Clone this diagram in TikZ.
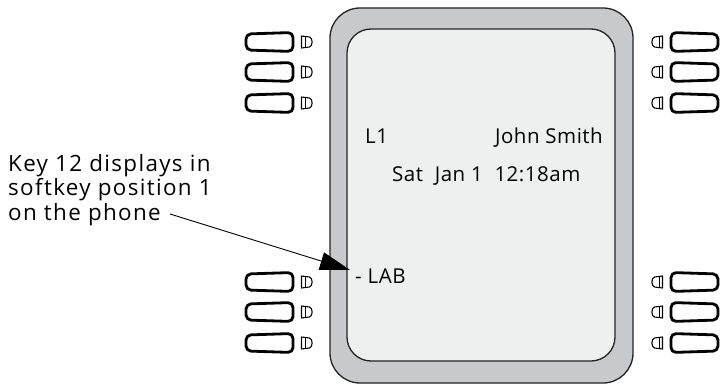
\documentclass[tikz,border=0pt]{standalone}
\usepackage{fontspec}
\setmainfont{Open Sans}
\newfontfamily\notefont[LetterSpace=6]{Open Sans}
\newfontfamily\scrfont[LetterSpace=2.5]{Open Sans}
\usetikzlibrary{arrows.meta}
\definecolor{bezel}{RGB}{200,201,203}
\definecolor{screen}{RGB}{238,239,239}
\definecolor{edge}{RGB}{35,35,35}
\tikzset{
  keypair/.pic={
    \draw[line width=2.8pt, rounded corners=5pt, line join=round]
      (246,-8) -- (293,-9.5) -- (293,9.5) -- (246,8) -- cycle;
    \draw[line width=1.1pt, line join=round]
      (301.5,-6) -- (309.5,-5) .. controls (313,-4) and (313,4) .. (309.5,5) -- (301.5,6) -- cycle;
    \draw[line width=0.7pt] (305,-5.5) -- (305,5.5);
  },
  scrtext/.style={font=\scrfont\fontsize{20.5}{24}\selectfont, inner sep=0pt, text=black},
  note/.style={font=\notefont\fontsize{22.4}{24.5}\selectfont, inner sep=0pt, align=left, text=black},
}
\begin{document}
\begin{tikzpicture}[x=1pt,y=-1pt]
\useasboundingbox (0,0) rectangle (722,385);
% phone body
\draw[fill=bezel, draw=edge, line width=1.3pt, rounded corners=30pt] (330,8) rectangle (633,383);
\draw[fill=screen, draw=edge, line width=1.3pt, rounded corners=24pt] (347,29) rectangle (615,361);
% keys
\foreach \cy in {42,72,103,282,312,343}{
  \pic at (0,\cy) {keypair};
  \pic[xscale=-1] at (964,\cy) {keypair};
}
% screen text
\node[scrtext, anchor=base west] (l1) at (365,143) {L1};
\node[scrtext, anchor=base east] (name) at (603,143) {John Smith};
\node[scrtext, anchor=base west] (date) at (392,181) {Sat\ \ Jan 1\ \ 12:18am};
\node[scrtext, anchor=base west] (lab) at (355,283) {- LAB};
% annotation
\node[note, anchor=base west] (note) at (8,220) {Key 12 displays in\\softkey position 1\\on the phone};
\coordinate (from) at (170,214);
\coordinate (tip) at (350,270);
\draw[line width=0.9pt, -{Triangle[length=30pt,width=18pt]}] (from) -- (tip);
\end{tikzpicture}
\end{document}
